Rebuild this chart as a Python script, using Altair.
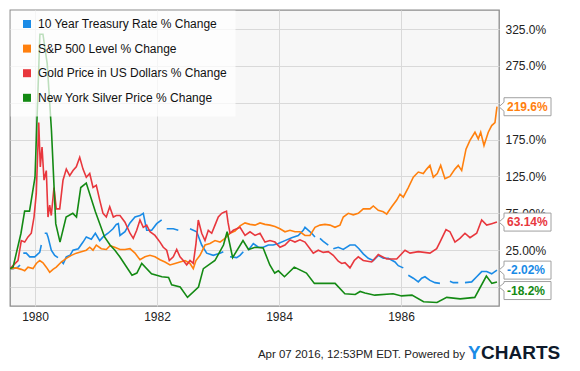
import altair as alt
import pandas as pd

FONT = "Liberation Sans"

series_names = [
    "10 Year Treasury Rate % Change",
    "S&P 500 Level % Change",
    "Gold Price in US Dollars % Change",
    "New York Silver Price % Change",
]
series_colors = ["#1a8be6", "#ff800e", "#e8373d", "#148a14"]
end_labels = ["-2.02%", "219.6%", "63.14%", "-18.2%"]

# ---- 10 Year Treasury (None = gap in the data) ----
treasury_year = [1979.590, 1979.644, 1979.721, 1979.754, 1979.780, 1979.808, 1979.857, 1979.913,
                 1979.995, 1980.077, 1980.103, 1980.130, 1980.159, 1980.192, 1980.213, 1980.267,
                 1980.323, 1980.377, 1980.400, 1980.431, 1980.464, 1980.513, 1980.574, 1980.623,
                 1980.710, 1980.787, 1980.841, 1980.923, 1980.989, 1981.061, 1981.115, 1981.197,
                 1981.279, 1981.333, 1981.366, 1981.393, 1981.475, 1981.557, 1981.639, 1981.721,
                 1981.775, 1981.831, 1981.913, 1981.995, 1982.077, 1982.120, 1982.159, 1982.267,
                 1982.349, 1982.400, 1982.459, 1982.500, 1982.541, 1982.651, 1982.733, 1982.815,
                 1982.923, 1983.033, 1983.087, 1983.140, 1983.197, 1983.307, 1983.361, 1983.415,
                 1983.450, 1983.497, 1983.579, 1983.661, 1983.743, 1983.825, 1983.907, 1983.989,
                 1984.098, 1984.208, 1984.316, 1984.398, 1984.426, 1984.536, 1984.590, 1984.630,
                 1984.672, 1984.726, 1984.808, 1984.850, 1984.890, 1984.972, 1985.054, 1985.164,
                 1985.246, 1985.311, 1985.382, 1985.464, 1985.546, 1985.628, 1985.710, 1985.792,
                 1985.902, 1985.956, 1986.038, 1986.080, 1986.120, 1986.202, 1986.284, 1986.339,
                 1986.393, 1986.475, 1986.557, 1986.639, 1986.680, 1986.721, 1986.760, 1986.803,
                 1986.857, 1986.939, 1987.000, 1987.049, 1987.159, 1987.241, 1987.323, 1987.405,
                 1987.487, 1987.574]
treasury_pct = [0, 0, 2, 5, None, 21, 21, 16,
                16, 22, 32, None, 48, 48, 43, 25,
                18, 15, None, 10, 7, 16, 18, 25,
                27, 36, 43, 40, 48, 38, 43, 48,
                54, 60, 61, 45, 50, 62, 70, 72,
                75, 52, 52, 61, 66, None, 54, 54,
                52, None, 63, None, 54, 50, 32, 21,
                18, 21, 23, None, 16, 15, 18, 23,
                None, 25, 34, 29, 29, 32, 32, 34,
                38, 42, 45, 52, 56, 48, 43, None,
                41, 37, 32, None, 27, 29, 26, 32,
                32, 27, 20, 14, 11, 18, 14, 14,
                9, 4, 1, None, -9, -13, -18, -13,
                -11, -16, -19, -20, None, -16, None, -17,
                -19, -19, None, -19, -18, -11, -4, -4,
                -7, -2.02]

# ---- S&P 500 ----
sp500_year = [1979.590, 1979.693, 1979.775, 1979.831, 1979.885, 1979.967, 1980.021, 1980.077,
              1980.131, 1980.185, 1980.241, 1980.295, 1980.349, 1980.431, 1980.513, 1980.595,
              1980.677, 1980.759, 1980.841, 1980.897, 1980.951, 1981.005, 1981.087, 1981.169,
              1981.230, 1981.307, 1981.393, 1981.475, 1981.557, 1981.639, 1981.721, 1981.803,
              1981.885, 1981.967, 1982.049, 1982.131, 1982.213, 1982.295, 1982.377, 1982.459,
              1982.541, 1982.595, 1982.639, 1982.705, 1982.787, 1982.869, 1982.951, 1983.033,
              1983.115, 1983.197, 1983.279, 1983.361, 1983.443, 1983.525, 1983.607, 1983.689,
              1983.770, 1983.852, 1983.934, 1984.016, 1984.098, 1984.180, 1984.262, 1984.344,
              1984.426, 1984.508, 1984.590, 1984.672, 1984.754, 1984.836, 1984.918, 1985.000,
              1985.054, 1985.136, 1985.218, 1985.300, 1985.382, 1985.410, 1985.492, 1985.546,
              1985.628, 1985.710, 1985.766, 1985.848, 1985.930, 1985.984, 1986.038, 1986.120,
              1986.202, 1986.284, 1986.366, 1986.421, 1986.475, 1986.530, 1986.595, 1986.651,
              1986.721, 1986.803, 1986.885, 1986.939, 1986.995, 1987.066, 1987.131, 1987.213,
              1987.267, 1987.307, 1987.361, 1987.431, 1987.487, 1987.541, 1987.574]
sp500_pct = [0, 1, -1, -3, 2, 0, 7, 11,
             8, 2, -5, -1, 2, 9, 14, 18,
             21, 23, 25, 29, 25, 32, 27, 26,
             31, 29, 26, 26, 27, 21, 12, 16,
             18, 16, 12, 9, 5, 7, 9, 11,
             7, 0, 11, 18, 32, 34, 38, 36,
             41, 48, 51, 58, 62, 60, 59, 62,
             60, 59, 57, 54, 50, 52, 50, 50,
             45, 45, 56, 59, 60, 59, 56, 59,
             70, 75, 73, 75, 81, 81, 81, 85,
             79, 77, 74, 84, 93, 101, 97, 110,
             124, 131, 129, 135, 140, 124, 129, 140,
             122, 125, 135, 140, 133, 162, 174, 185,
             176, 185, 167, 185, 194, 198, 219.6]

# ---- Gold ----
gold_year = [1979.590, 1979.721, 1979.775, 1979.831, 1979.885, 1979.939, 1979.984, 1980.021,
             1980.061, 1980.087, 1980.115, 1980.148, 1980.185, 1980.213, 1980.241, 1980.267,
             1980.311, 1980.349, 1980.405, 1980.459, 1980.513, 1980.569, 1980.623, 1980.677,
             1980.733, 1980.787, 1980.841, 1980.897, 1980.951, 1981.005, 1981.061, 1981.115,
             1981.169, 1981.225, 1981.284, 1981.333, 1981.393, 1981.475, 1981.557, 1981.611,
             1981.667, 1981.721, 1981.775, 1981.831, 1981.885, 1981.967, 1982.049, 1982.103,
             1982.159, 1982.202, 1982.267, 1982.323, 1982.377, 1982.431, 1982.487, 1982.541,
             1982.595, 1982.639, 1982.677, 1982.733, 1982.787, 1982.841, 1982.897, 1982.951,
             1983.005, 1983.061, 1983.115, 1983.139, 1983.164, 1983.197, 1983.251, 1983.307,
             1983.361, 1983.443, 1983.525, 1983.607, 1983.689, 1983.770, 1983.852, 1983.934,
             1984.016, 1984.098, 1984.180, 1984.262, 1984.344, 1984.426, 1984.508, 1984.562,
             1984.644, 1984.726, 1984.808, 1984.890, 1984.972, 1985.028, 1985.082, 1985.164,
             1985.234, 1985.300, 1985.382, 1985.520, 1985.628, 1985.766, 1985.930, 1986.066,
             1986.148, 1986.284, 1986.475, 1986.585, 1986.639, 1986.738, 1986.803, 1986.885,
             1986.967, 1987.049, 1987.131, 1987.241, 1987.323, 1987.405, 1987.487, 1987.574]
gold_pct = [0, 11, 38, 36, 43, 48, 70, 102,
            198, 138, 165, 120, 133, 70, 86, 72,
            110, 81, 81, 120, 135, 126, 133, 138,
            151, 135, 124, 129, 110, 113, 93, 75,
            70, 84, 70, 72, 72, 63, 48, 41,
            52, 66, 56, 59, 50, 45, 36, 29,
            25, 11, 16, 26, 16, 11, 5, 11,
            7, 34, 66, 48, 38, 52, 48, 59,
            70, 75, 77, 78, 63, 48, 52, 54,
            56, 45, 50, 45, 48, 36, 38, 36,
            29, 32, 39, 36, 39, 36, 27, 21,
            25, 22, 23, 18, 10, 7, 8, 1,
            11, 16, 11, 9, 19, 13, 13, 25,
            21, 23, 21, 27, 36, 53, 50, 36,
            41, 48, 42, 48, 66, 59, 61, 63.14]

# ---- Silver ----
silver_year = [1979.590, 1979.640, 1979.770, 1979.830, 1979.910, 1980.000, 1980.080, 1980.130,
               1980.200, 1980.270, 1980.340, 1980.410, 1980.510, 1980.620, 1980.680, 1980.750,
               1980.840, 1980.990, 1981.140, 1981.230, 1981.310, 1981.390, 1981.590, 1981.670,
               1981.750, 1981.910, 1982.080, 1982.190, 1982.240, 1982.380, 1982.500, 1982.680,
               1982.760, 1982.950, 1983.090, 1983.150, 1983.240, 1983.410, 1983.500, 1983.610,
               1983.740, 1983.850, 1983.930, 1983.990, 1984.090, 1984.250, 1984.450, 1984.580,
               1984.730, 1984.920, 1985.080, 1985.250, 1985.330, 1985.410, 1985.570, 1985.870,
               1986.010, 1986.180, 1986.370, 1986.590, 1986.750, 1986.970, 1987.210, 1987.400,
               1987.490, 1987.574]
silver_pct = [0, 2, 48, 78, 78, 124, 318, 318,
              278, 187, 61, 36, 70, 75, 70, 110,
              116, 77, 43, 32, 25, 16, -9, -6,
              7, -7, -11, -12, -22, -25, -39, -25,
              0, 11, 32, 50, 15, 38, 26, 29,
              28, 5, -6, -3, -11, 2, -6, -20,
              -20, -20, -34, -35, -31, -33, -36, -34,
              -37, -36, -45, -46, -39, -41, -39, -10,
              -20, -18.2]

footer_text = "Apr 07 2016, 12:53PM EDT. Powered by"

# ---------------- build tables ----------------
rows = []
for name, yrs, vals in zip(series_names,
                           [treasury_year, sp500_year, gold_year, silver_year],
                           [treasury_pct, sp500_pct, gold_pct, silver_pct]):
    seg = 0
    for yr, v in zip(yrs, vals):
        if v is None:
            seg += 1
            continue
        rows.append({"series": name, "year": yr, "pct": v, "seg": f"{name}-{seg}"})
df = pd.DataFrame(rows)

last_rows = []
for name, lab, vals in zip(series_names, end_labels,
                           [treasury_pct, sp500_pct, gold_pct, silver_pct]):
    last_rows.append({"series": name, "pct": vals[-1], "label": lab})
last_df = pd.DataFrame(last_rows)

W, H = 489, 296

x_enc = alt.X("year:Q",
              scale=alt.Scale(domain=[1979.59, 1987.607], nice=False, zero=False),
              axis=alt.Axis(values=[1980, 1982, 1984, 1986], format="d", title=None,
                            grid=True, gridColor="#d9d9d9", ticks=False, domain=False,
                            labelPadding=5, labelFontSize=12, labelFont=FONT,
                            labelColor="#222222"))
y_enc = alt.Y("pct:Q",
              scale=alt.Scale(domain=[-50.7, 350.8], nice=False, zero=False),
              axis=alt.Axis(orient="right", values=[-25, 25, 75, 125, 175, 225, 275, 325],
                            labelExpr="(datum.value == 225 || datum.value < 0) ? '' : "
                                      "(datum.value >= 100 ? format(datum.value, '.1f') + '%' : "
                                      "format(datum.value, '.2f') + '%')",
                            title=None, grid=True, gridColor="#d9d9d9", ticks=False,
                            domain=False, labelPadding=6, labelFontSize=12, labelFont=FONT,
                            labelColor="#222222"))

lines = alt.Chart(df).mark_line(strokeWidth=1.6, clip=True).encode(
    x=x_enc,
    y=y_enc,
    color=alt.Color("series:N",
                    scale=alt.Scale(domain=series_names, range=series_colors),
                    legend=alt.Legend(orient="top-left", title=None, offset=0,
                                      symbolType="square", symbolSize=16,
                                      symbolStrokeWidth=4, symbolOffset=3,
                                      labelFontSize=12,
                                      labelFont=FONT, labelColor="#111111",
                                      labelOffset=5, padding=8, rowPadding=4.6,
                                      labelLimit=400,
                                      labelExpr="datum.label + '       '",
                                      fillColor="rgba(255,255,255,0.72)",
                                      strokeColor="rgba(255,255,255,0)")),
    detail="seg:N",
)

path_normal = "M0,0L0.5,-0.45L0.5,-0.9L5.2,-0.9L5.2,0.9L0.5,0.9L0.5,0.45Z"
path_shift = "M0,0.5L0.5,0.1L0.5,-0.05L5.2,-0.05L5.2,1.75L0.5,1.75L0.5,0.9Z"

layers = [lines]
for name, col in zip(series_names, series_colors):
    shifted = name == series_names[3]
    sub = alt.Chart(last_df).transform_filter(alt.datum.series == name)
    box = sub.mark_point(shape=path_shift if shifted else path_normal, size=400,
                         filled=False, fill="white", stroke="#a0a0a0",
                         strokeWidth=1, opacity=1).encode(
        x=alt.value(W), y=alt.Y("pct:Q"))
    txt = sub.mark_text(align="left", baseline="middle", dx=8,
                        dy=8.5 if shifted else 0, fontSize=12, fontWeight="bold",
                        font=FONT, color=col).encode(
        x=alt.value(W), y=alt.Y("pct:Q"), text="label:N")
    layers += [box, txt]

foot_df = pd.DataFrame({"t": [footer_text], "y1": ["Y"], "y2": ["CHARTS"]})
footer = alt.Chart(foot_df).mark_text(align="right", baseline="alphabetic", fontSize=11.5,
                                      font=FONT, color="#222222").encode(
    x=alt.value(455), y=alt.value(347.5), text="t:N")
logo_y = alt.Chart(foot_df).mark_text(align="left", baseline="alphabetic", fontSize=19,
                                      fontWeight="bold", font=FONT, color="#1a8be6").encode(
    x=alt.value(458), y=alt.value(349), text="y1:N")
logo_rest = alt.Chart(foot_df).mark_text(align="left", baseline="alphabetic", fontSize=19,
                                         fontWeight="bold", font=FONT, color="#0e1a2b").encode(
    x=alt.value(471), y=alt.value(349), text="y2:N")
layers += [footer, logo_y, logo_rest]

chart = alt.layer(*layers).properties(
    width=W, height=H,
    padding={"left": 2, "top": 2, "right": 73, "bottom": 57},
    autosize=alt.AutoSizeParams(type="none"),
    background="white",
).configure_view(
    fill="#f7f7f7", stroke="#8c8c8c", strokeWidth=1.3
)

chart.save("out.html", embed_options={"renderer": "svg", "actions": False})
